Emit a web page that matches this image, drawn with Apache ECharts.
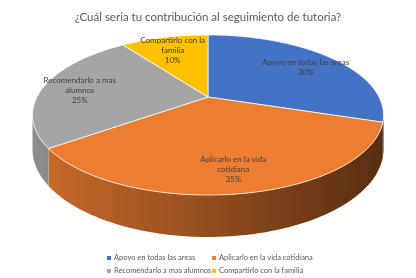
<!DOCTYPE html>
<html><head><meta charset="utf-8">
<script src="https://cdn.jsdelivr.net/npm/echarts@6/dist/echarts.min.js"></script>
<style>html,body{margin:0;padding:0;background:#fff}#c{width:416px;height:278px}</style>
</head><body><div id="c"></div>
<script>
const categories = ['Apoyo en todas las areas', 'Aplicarlo en la vida cotidiana', 'Recomendarlo a mas alumnos', 'Compartirlo con la familia'];
const values = [30, 35, 25, 10];
const labelLines = ['Apoyo en todas las areas', 'Aplicarlo en la vida\ncotidiana', 'Recomendarlo a mas\nalumnos', 'Compartirlo con la\nfamilia'];
const colors = ['#4472C4', '#ED7D31', '#A5A5A5', '#FFC000'];
const titleText = '¿Cuál seria tu contribución al seguimiento de tutoria?';

const FONT = 'Lato, "Open Sans", sans-serif';
const total = values.reduce((s, v) => s + v, 0);
const starts = [];
values.reduce((acc, v, i) => { starts[i] = acc; return acc + v; }, 0);

// 3D pie projection geometry
const CX = 208, CY = 97, A = 171, B = 76, K = 0.225, H = 32.5;
function proj(t, r, z) {
  const u = r * Math.cos(t), v = r * Math.sin(t);
  const w = 1 - K * v;
  return [CX + A * u / w, CY + (B * v + H * z) / w];
}
function shade(hex, f) {
  const n = parseInt(hex.slice(1), 16);
  const r = Math.round(((n >> 16) & 255) * f), g = Math.round(((n >> 8) & 255) * f), b = Math.round((n & 255) * f);
  return 'rgb(' + r + ',' + g + ',' + b + ')';
}
const sil = Math.asin(K);

function makeRender(idx) {
  return function (params, api) {
    const s = api.value(0), v = api.value(1);
    const t0 = -Math.PI / 2 + s / total * 2 * Math.PI;
    const t1 = t0 + v / total * 2 * Math.PI;
    const n = 80;
    const children = [];
    const a0 = Math.max(t0, sil), a1 = Math.min(t1, Math.PI - sil);
    if (a1 > a0) {
      const pts = [];
      for (let j = 0; j <= n; j++) pts.push(proj(a0 + (a1 - a0) * j / n, 1, 0));
      for (let j = n; j >= 0; j--) pts.push(proj(a0 + (a1 - a0) * j / n, 1, 1));
      children.push({
        type: 'polygon', z2: 1,
        shape: { points: pts },
        style: {
          fill: new echarts.graphic.LinearGradient(CX - A - 5, 0, CX + A + 5, 0, [
            { offset: 0, color: shade(colors[idx], 0.86) },
            { offset: 1, color: shade(colors[idx], 0.37) }
          ], true),
          stroke: null
        }
      });
    }
    const top = [[CX, CY]];
    for (let j = 0; j <= n; j++) top.push(proj(t0 + (t1 - t0) * j / n, 1, 0));
    children.push({
      type: 'polygon', z2: 10,
      shape: { points: top },
      style: { fill: colors[idx], stroke: 'rgba(255,255,255,0.75)', lineWidth: 1 }
    });
    const mid = (t0 + t1) / 2;
    const lp = proj(mid, 0.78, 0);
    children.push({
      type: 'text', z2: 20,
      x: lp[0], y: lp[1] + 2,
      style: {
        text: labelLines[idx] + '\n' + Math.round(v / total * 100) + '%',
        fill: '#404040', font: '8px ' + FONT, lineHeight: 10,
        align: 'center', verticalAlign: 'middle'
      }
    });
    return { type: 'group', children: children };
  };
}

const series = categories.map((name, i) => ({
  type: 'custom', name: name, coordinateSystem: 'none',
  itemStyle: { color: colors[i] },
  data: [[starts[i], values[i]]],
  renderItem: makeRender(i)
}));

const legendBase = {
  orient: 'vertical', top: 253, height: 25, padding: 0, icon: 'rect', itemWidth: 4, itemHeight: 4, itemGap: 3,
  textStyle: { fontSize: 7.5, color: '#595959', fontFamily: FONT, lineHeight: 10, padding: [0, 0, 0, -2] },
  selectedMode: false
};

const chart = echarts.init(document.getElementById('c'), null, { renderer: 'canvas' });
chart.setOption({
  animation: false,
  backgroundColor: '#fff',
  title: { text: titleText, left: 'center', top: 6, textStyle: { fontSize: 11.5, fontWeight: 'normal', color: '#595959', fontFamily: FONT } },
  legend: [
    Object.assign({}, legendBase, { left: 107, data: [categories[0], categories[2]] }),
    Object.assign({}, legendBase, { left: 212, data: [categories[1], categories[3]] })
  ],
  series: series
});
</script></body></html>
